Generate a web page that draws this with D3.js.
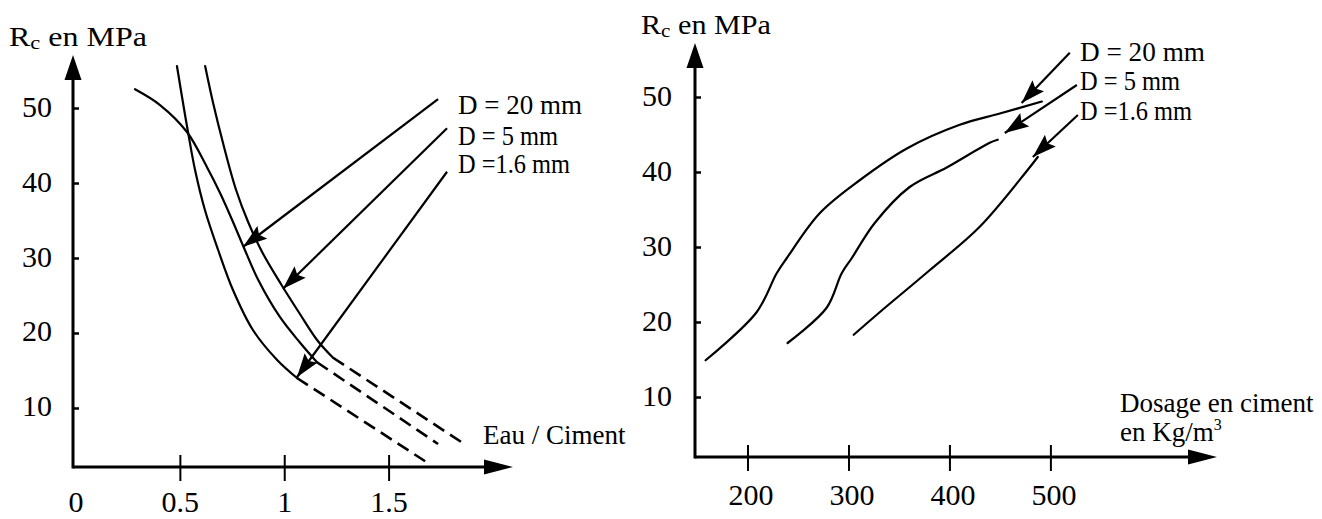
<!DOCTYPE html>
<html>
<head>
<meta charset="utf-8">
<script src="https://cdn.jsdelivr.net/npm/d3@7"></script>
<style>
  html, body { margin: 0; padding: 0; background: #fff; }
  svg { display: block; }
  text { font-family: "Liberation Serif", "Times New Roman", serif; fill: #000; }
</style>
</head>
<body>
<svg id="chart" width="1322" height="519"></svg>
<script>
// ---------- Left panel: Rc vs Eau / Ciment ----------
const wcTicks = [0, 0.5, 1, 1.5];
const wcTickLabels = ["0", "0.5", "1", "1.5"];
const rcTicks = [10, 20, 30, 40, 50];
const rcTickLabels = ["10", "20", "30", "40", "50"];

// solid parts of the curves [E/C, Rc]
const wcD20 = [[0.285, 52.5], [0.405, 50.4], [0.534, 46.8], [0.630, 42.1], [0.692, 38.7],
               [0.750, 35.1], [0.808, 31.3], [0.875, 27.1], [0.980, 22.1], [1.076, 18.7], [1.157, 16.1]];
const wcD5  = [[0.621, 55.6], [0.659, 50.7], [0.707, 45.3], [0.769, 39.1], [0.827, 34.8],
               [0.894, 30.8], [0.985, 26.5], [1.076, 22.5], [1.162, 18.9], [1.234, 16.7]];
const wcD16 = [[0.486, 55.6], [0.515, 50.7], [0.539, 46.8], [0.573, 41.7], [0.620, 36.4],
               [0.683, 31.1], [0.755, 25.7], [0.850, 20.4], [0.966, 16.4], [1.061, 14.0]];
// dashed extrapolations
const wcD20Ext = [[1.157, 16.1], [1.737, 5.2]];
const wcD5Ext  = [[1.234, 16.7], [1.857, 5.3]];
const wcD16Ext = [[1.061, 14.0], [1.675, 2.9]];

const wcLegend = ["D = 20 mm", "D = 5 mm", "D =1.6 mm"];
// pointer arrows: [tail, tip] in data units
const wcPointers = [
  [[1.737, 51.2], [0.803, 31.5]],
  [[1.780, 47.3], [0.994, 25.9]],
  [[1.780, 41.5], [1.061, 14.1]]
];

// ---------- Right panel: Rc vs Dosage en ciment ----------
const dosTicks = [200, 300, 400, 500];
const dosTickLabels = ["200", "300", "400", "500"];

const dosD20 = [[158.5, 14.9], [209, 21.3], [228.9, 26.5], [238.8, 28.5], [271.5, 34.5],
                [311.1, 38.9], [358.7, 43.2], [410.2, 46.3], [449.9, 47.8], [491.5, 49.4]];
const dosD5  = [[239.7, 17.2], [278.4, 21.9], [293.3, 26.5], [303.2, 28.5], [326.0, 33.2],
                [360.6, 38.0], [397.3, 40.6], [439.9, 43.9], [447.8, 44.3]];
const dosD16 = [[305.2, 18.3], [330.9, 21.3], [380.4, 26.9], [430.0, 32.7], [477.6, 40.3], [487.5, 42.0]];

const dosLegend = ["D = 20 mm", "D = 5 mm", "D =1.6 mm"];
const dosPointers = [
  [[519.2, 55.9], [471.5, 49.2]],
  [[526.2, 51.6], [454.8, 45.2]],
  [[527.2, 47.6], [482.6, 42.0]]
];

// ---------- drawing ----------
const svg = d3.select("#chart");

const defs = svg.append("defs");
defs.append("marker")
  .attr("id", "pointer")
  .attr("viewBox", "0 0 24 16")
  .attr("refX", 24).attr("refY", 8)
  .attr("markerWidth", 24).attr("markerHeight", 16)
  .attr("markerUnits", "userSpaceOnUse")
  .attr("orient", "auto")
  .append("path").attr("d", "M0,0 L24,8 L0,16 L4,8 Z").attr("fill", "#000");

function arrowHead(g, x, y, dir, len, half) {
  // filled triangle for the axis ends; dir "up" or "right"
  const p = dir === "up"
    ? [[x, y], [x - half, y + len], [x + half, y + len]]
    : [[x, y], [x - len, y - half], [x - len, y + half]];
  g.append("path").attr("d", "M" + p.join("L") + "Z").attr("fill", "#000");
}

function panel(opt) {
  const g = svg.append("g");
  const x = d3.scaleLinear().domain(opt.xDomain).range(opt.xRange);
  const y = d3.scaleLinear().domain(opt.yDomain).range(opt.yRange);
  const x0 = opt.xRange[0], y0 = opt.yRange[0];

  // axis lines with arrow heads
  g.append("line").attr("x1", x0).attr("x2", opt.xRange[1] - 10)
    .attr("y1", y0).attr("y2", y0).attr("stroke", "#000").attr("stroke-width", 3);
  g.append("line").attr("x1", x0).attr("x2", x0)
    .attr("y1", y0 + 1.5).attr("y2", opt.yRange[1] + 10).attr("stroke", "#000").attr("stroke-width", 3);
  arrowHead(g, opt.xRange[1], y0, "right", 29, 7.5);
  arrowHead(g, x0, opt.yRange[1], "up", 25, 8.5);

  // x axis ticks crossing the axis line
  const xa = g.append("g").attr("transform", `translate(0,${y0})`)
    .call(d3.axisBottom(x).tickValues(opt.xTicks).tickSize(14).tickPadding(0)
      .tickFormat((d, i) => opt.xTickLabels[i]));
  xa.select(".domain").remove();
  xa.selectAll(".tick line").attr("y1", -12).attr("stroke-width", 2)
    .attr("display", d => d === opt.xDomainStartTick ? "none" : null);
  xa.selectAll(".tick text").attr("y", opt.xLabelY).attr("dy", null).attr("dx", opt.xLabelDx)
    .attr("font-size", 30).attr("font-family", "Liberation Serif");

  // y axis ticks, short marks on the inside
  const ya = g.append("g").attr("transform", `translate(${x0},0)`)
    .call(d3.axisLeft(y).tickValues(opt.yTicks).tickSize(-6).tickPadding(opt.yLabelGap)
      .tickFormat((d, i) => opt.yTickLabels[i]));
  ya.select(".domain").remove();
  ya.selectAll(".tick line").attr("x1", -1).attr("stroke-width", 2.5);
  ya.selectAll(".tick text").attr("dy", null).attr("y", 8)
    .attr("font-size", 30).attr("font-family", "Liberation Serif");

  const line = d3.line().x(d => x(d[0])).y(d => y(d[1])).curve(d3.curveCatmullRom.alpha(0.5));
  opt.curves.forEach(c => {
    g.append("path").attr("d", line(c)).attr("fill", "none")
      .attr("stroke", "#000").attr("stroke-width", 2.2).attr("stroke-linecap", "round");
  });
  (opt.dashed || []).forEach(c => {
    g.append("path").attr("d", line(c)).attr("fill", "none")
      .attr("stroke", "#000").attr("stroke-width", 2.6).attr("stroke-dasharray", "13,7");
  });

  opt.pointers.forEach(p => {
    g.append("line")
      .attr("x1", x(p[0][0])).attr("y1", y(p[0][1]))
      .attr("x2", x(p[1][0])).attr("y2", y(p[1][1]))
      .attr("stroke", "#000").attr("stroke-width", 2.2)
      .attr("marker-end", "url(#pointer)");
  });

  opt.legend.forEach((t, i) => {
    g.append("text").attr("x", opt.legendX).attr("y", opt.legendY[i])
      .attr("font-size", 27)
      .attr("textLength", opt.legendW[i]).attr("lengthAdjust", "spacingAndGlyphs")
      .text(t);
  });

  // axis title "Rc en MPa"
  const tt = g.append("text").attr("x", opt.titleX).attr("y", opt.titleY)
    .attr("font-size", 27).attr("textLength", opt.titleW).attr("lengthAdjust", "spacingAndGlyphs");
  tt.append("tspan").text("R");
  tt.append("tspan").attr("font-size", 19).attr("dy", 3).text("c");
  tt.append("tspan").attr("dy", -3).text(" en MPa");

  return g;
}

const left = panel({
  xDomain: [-0.012, 2.096], xRange: [73, 513],
  yDomain: [2.13, 57.07], yRange: [467, 55],
  xTicks: wcTicks, xTickLabels: wcTickLabels, xDomainStartTick: 0, xLabelDx: 0, xLabelY: 45,
  yTicks: rcTicks, yTickLabels: rcTickLabels, yLabelGap: 21,
  curves: [wcD20, wcD5, wcD16],
  dashed: [wcD20Ext, wcD5Ext, wcD16Ext],
  pointers: wcPointers,
  legend: wcLegend, legendX: 458, legendY: [114, 145, 173], legendW: [124, 100, 112],
  titleX: 9, titleY: 46, titleW: 138
});
left.append("text").attr("x", 483).attr("y", 444).attr("font-size", 27).text("Eau / Ciment");

const right = panel({
  xDomain: [148, 665], xRange: [695, 1217],
  yDomain: [2.0, 57.2], yRange: [457, 43],
  xTicks: dosTicks, xTickLabels: dosTickLabels, xDomainStartTick: null, xLabelDx: 3, xLabelY: 48,
  yTicks: rcTicks, yTickLabels: rcTickLabels, yLabelGap: 23,
  curves: [dosD20, dosD5, dosD16],
  dashed: [],
  pointers: dosPointers,
  legend: dosLegend, legendX: 1080, legendY: [61, 90, 120], legendW: [125, 100, 112],
  titleX: 641, titleY: 34, titleW: 130
});
right.append("text").attr("x", 1120).attr("y", 412).attr("font-size", 27).text("Dosage en ciment");
const kg = right.append("text").attr("x", 1120).attr("y", 441).attr("font-size", 27);
kg.append("tspan").text("en Kg/m");
kg.append("tspan").attr("font-size", 16).attr("dy", -11).text("3");
</script>
</body>
</html>
